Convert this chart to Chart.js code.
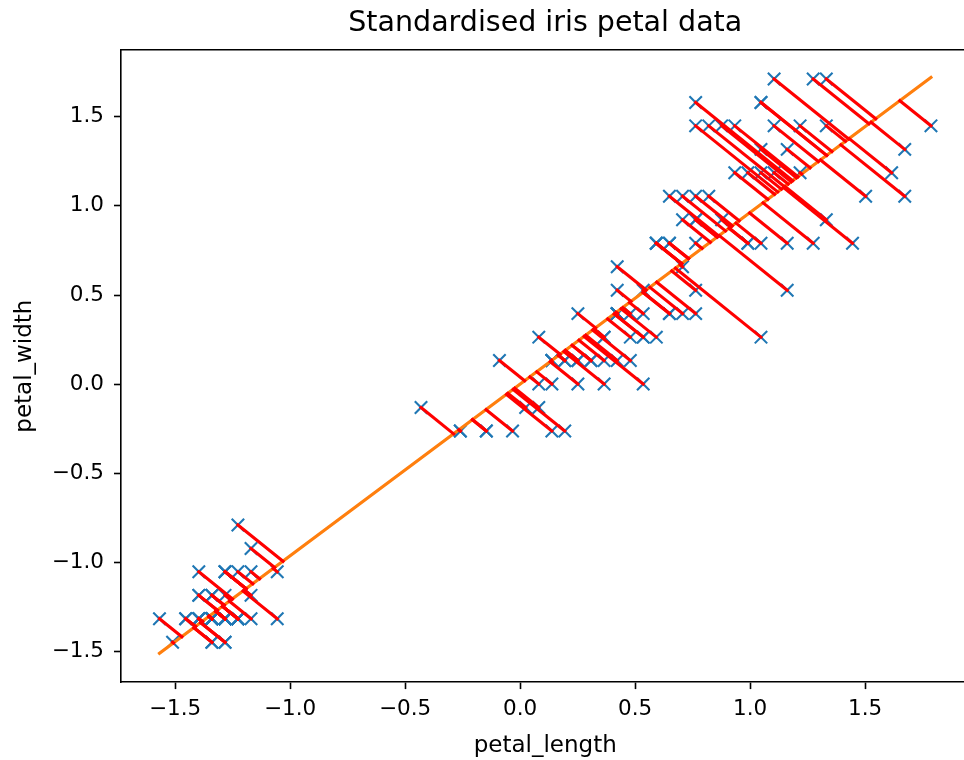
<!DOCTYPE html>
<html>
<head>
<meta charset="utf-8">
<title>Standardised iris petal data</title>
<script src="https://cdn.jsdelivr.net/npm/chart.js@4.4.1/dist/chart.umd.min.js"></script>
<style>
    html, body { margin: 0; padding: 0; background: #fff; overflow: hidden; }
    /* the axes box runs a few px past the right edge of the picture, so clip it here */
    #wrap { width: 964px; height: 760px; overflow: hidden; position: relative; }
    #petalChart { display: block; }
</style>
</head>
<body>
<div id="wrap"><canvas id="petalChart" width="972" height="760"></canvas></div>
<script>
// Data: standardised petal length / width (150 iris samples)
const petalLength = [
    -1.340, -1.340, -1.397, -1.283, -1.340, -1.170, -1.340, -1.283, -1.340, -1.283,
    -1.283, -1.227, -1.340, -1.511, -1.454, -1.283, -1.397, -1.340, -1.170, -1.283,
    -1.170, -1.283, -1.568, -1.170, -1.056, -1.227, -1.227, -1.283, -1.340, -1.227,
    -1.227, -1.283, -1.283, -1.340, -1.283, -1.454, -1.397, -1.340, -1.397, -1.283,
    -1.397, -1.397, -1.397, -1.227, -1.056, -1.340, -1.227, -1.340, -1.283, -1.340,
    0.535, 0.422, 0.649, 0.138, 0.479, 0.422, 0.535, -0.260, 0.479, 0.081,
    -0.147, 0.251, 0.138, 0.535, -0.090, 0.365, 0.422, 0.194, 0.422, 0.081,
    0.592, 0.138, 0.649, 0.535, 0.308, 0.365, 0.592, 0.706, 0.422, -0.147,
    0.024, -0.033, 0.081, 0.763, 0.422, 0.422, 0.535, 0.365, 0.194, 0.138,
    0.365, 0.479, 0.138, -0.260, 0.251, 0.251, 0.251, 0.308, -0.431, 0.194,
    1.274, 0.763, 1.217, 1.047, 1.161, 1.615, 0.422, 1.445, 1.161, 1.331,
    0.763, 0.876, 0.990, 0.706, 0.763, 0.876, 0.990, 1.672, 1.786, 0.706,
    1.104, 0.649, 1.672, 0.649, 1.104, 1.274, 0.592, 0.649, 1.047, 1.161,
    1.331, 1.502, 1.047, 0.763, 1.047, 1.331, 1.047, 0.990, 0.592, 0.933,
    1.047, 0.763, 0.763, 1.217, 1.104, 0.820, 0.706, 0.820, 0.933, 0.763
];
const petalWidth = [
    -1.315, -1.315, -1.315, -1.315, -1.315, -1.052, -1.184, -1.315, -1.315, -1.447,
    -1.315, -1.315, -1.447, -1.447, -1.315, -1.052, -1.052, -1.184, -1.184, -1.184,
    -1.315, -1.052, -1.315, -0.921, -1.315, -1.315, -1.052, -1.315, -1.315, -1.315,
    -1.315, -1.052, -1.447, -1.315, -1.315, -1.315, -1.315, -1.447, -1.315, -1.315,
    -1.184, -1.184, -1.315, -0.789, -1.052, -1.184, -1.315, -1.315, -1.315, -1.315,
    0.264, 0.396, 0.396, 0.133, 0.396, 0.133, 0.527, -0.262, 0.133, 0.264,
    -0.262, 0.396, -0.262, 0.264, 0.133, 0.264, 0.396, -0.262, 0.396, -0.131,
    0.791, 0.133, 0.396, 0.001, 0.133, 0.264, 0.264, 0.659, 0.396, -0.262,
    -0.131, -0.262, 0.001, 0.527, 0.396, 0.527, 0.396, 0.133, 0.133, 0.133,
    0.001, 0.264, 0.001, -0.262, 0.133, 0.001, 0.133, 0.133, -0.131, 0.133,
    1.712, 0.922, 1.186, 0.791, 1.317, 1.186, 0.659, 0.791, 0.791, 1.712,
    1.054, 0.922, 1.186, 1.054, 1.580, 1.449, 0.791, 1.317, 1.449, 0.396,
    1.449, 1.054, 1.054, 0.791, 1.186, 0.791, 0.791, 0.791, 1.186, 0.527,
    0.922, 1.054, 1.317, 0.396, 0.264, 1.449, 1.580, 0.791, 0.791, 1.186,
    1.580, 1.449, 0.922, 1.449, 1.712, 1.449, 0.922, 1.054, 1.449, 0.791
];
// fitted line (orange), drawn from min to max petal_length
const fitSlope = 0.963;
const fitLineX = [-1.568, 1.786];
const fitLineY = [-1.509, 1.720];
// axis ticks + limits
const xTicks = [-1.5, -1.0, -0.5, 0.0, 0.5, 1.0, 1.5];
const yTicks = [-1.5, -1.0, -0.5, 0.0, 0.5, 1.0, 1.5];
const xLimits = [-1.7353, 1.9535];
const yLimits = [-1.6705, 1.8732];

const FONT = 'DejaVu Sans';
const fmtTick = v => (v < 0 ? '\u2212' : '') + Math.abs(v).toFixed(1);

// Siapkan dataset: garis merah dari tiap titik ke proyeksinya di garis oranye
const datasets = [];
petalLength.forEach((x, i) => {
    const y = petalWidth[i];
    const t = (x + fitSlope * y) / (1 + fitSlope * fitSlope);
    datasets.push({
        data: [{ x: x, y: y }, { x: t, y: fitSlope * t }],
        showLine: true, borderColor: '#ff0000', borderWidth: 3.1, borderCapStyle: 'square',
        pointRadius: 0, order: 0
    });
});
datasets.push({
    data: fitLineX.map((x, i) => ({ x: x, y: fitLineY[i] })),
    showLine: true, borderColor: '#ff7f0e', borderWidth: 3.1, borderCapStyle: 'square',
    pointRadius: 0, order: 1
});
datasets.push({
    data: petalLength.map((x, i) => ({ x: x, y: petalWidth[i] })),
    pointStyle: 'crossRot', pointRadius: 8.8, borderColor: '#1f77b4', borderWidth: 2.1,
    backgroundColor: 'rgba(0,0,0,0)', order: 2
});

try {
    window.petalChart = new Chart(document.getElementById('petalChart'), {
        type: 'scatter',
        data: { datasets: datasets },
        options: {
            responsive: false,
            animation: false,
            devicePixelRatio: 1,
            events: [],
            // autoPadding off, otherwise the big markers push the right edge inwards
            layout: { autoPadding: false, padding: { left: 0, right: 2.5, top: 0, bottom: 0 } },
            plugins: { legend: { display: false }, tooltip: { enabled: false }, title: { display: false } },
            scales: {
                x: {
                    type: 'linear', position: 'bottom', min: xLimits[0], max: xLimits[1],
                    afterBuildTicks: axis => { axis.ticks = xTicks.map(v => ({ value: v })); },
                    afterFit: axis => { axis.height = 77.9; },
                    grid: { drawOnChartArea: false, drawTicks: true, tickLength: 7, tickWidth: 1.6, tickColor: '#000' },
                    border: { display: true, color: '#000', width: 1.6 },
                    ticks: { color: '#000', font: { family: FONT, size: 21.5 }, padding: 7.5, maxRotation: 0, autoSkip: false, callback: fmtTick },
                    title: { display: true, text: 'petal_length', color: '#000', font: { family: FONT, size: 23 }, padding: { top: 0, bottom: 0.5 } }
                },
                xTop: {
                    type: 'linear', position: 'top', min: xLimits[0], max: xLimits[1],
                    afterFit: axis => { axis.height = 50.2; },
                    grid: { drawOnChartArea: false, drawTicks: false },
                    border: { display: true, color: '#000', width: 1.6 },
                    ticks: { display: false },
                    title: { display: true, text: 'Standardised iris petal data', color: '#000', font: { family: FONT, size: 28.5 }, padding: { top: 6.5, bottom: 0 } }
                },
                y: {
                    type: 'linear', position: 'left', min: yLimits[0], max: yLimits[1],
                    afterBuildTicks: axis => { axis.ticks = yTicks.map(v => ({ value: v })); },
                    afterFit: axis => { axis.width = 121; },
                    grid: { drawOnChartArea: false, drawTicks: true, tickLength: 7, tickWidth: 1.6, tickColor: '#000' },
                    border: { display: true, color: '#000', width: 1.6 },
                    ticks: { color: '#000', font: { family: FONT, size: 21.5 }, padding: 10, autoSkip: false, callback: fmtTick },
                    title: { display: true, text: 'petal_width', color: '#000', font: { family: FONT, size: 23 }, padding: { top: 11, bottom: 0 } }
                }
            }
        }
    });
} catch (err) { console.error('Error rendering petal chart:', err); }
</script>
</body>
</html>
